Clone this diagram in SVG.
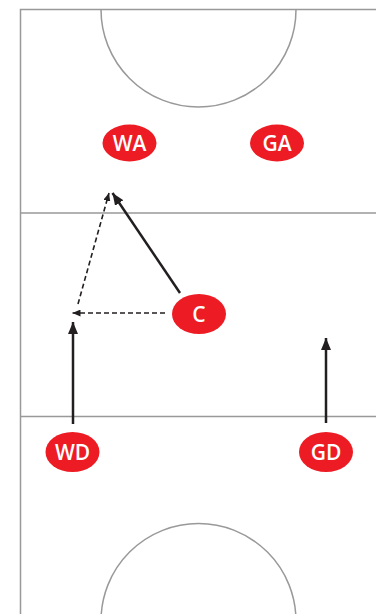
<svg xmlns="http://www.w3.org/2000/svg" width="376" height="614" viewBox="0 0 376 614">
<defs>
<style>
.court{fill:none;stroke:#999;stroke-width:1.5}
.pl{fill:#ed1c24}
.lbl{font-family:"Open Sans","Liberation Sans",sans-serif;font-weight:600;font-size:21px;fill:#fff;text-anchor:middle}
.arr{stroke:#231f20;stroke-width:2.5;fill:none}
.dash{stroke:#231f20;stroke-width:1.6;fill:none;stroke-dasharray:5 3}
</style>
<marker id="big" viewBox="0 0 12 10" refX="12" refY="5" markerWidth="12" markerHeight="10" markerUnits="userSpaceOnUse" orient="auto">
<path d="M0,0 L12,5 L0,10 Z" fill="#231f20"/>
</marker>
<marker id="small" viewBox="0 0 8 7" refX="8" refY="3.5" markerWidth="8" markerHeight="7" markerUnits="userSpaceOnUse" orient="auto">
<path d="M0,0 L8,3.5 L0,7 Z" fill="#231f20"/>
</marker>
</defs>
<rect width="376" height="614" fill="#fff"/>
<g id="court">
<path class="court" d="M380,9.5 H20.5 V620"/>
<line class="court" x1="20.5" y1="213" x2="380" y2="213"/>
<line class="court" x1="20.5" y1="416.5" x2="380" y2="416.5"/>
<path class="court" d="M101,9.5 A97.5,97.5 0 0 0 296,9.5"/>
<path class="court" d="M101,621 A97.5,97.5 0 0 1 296,621"/>
</g>
<g id="connectors">
<line class="arr" x1="180" y1="293" x2="112.5" y2="193" marker-end="url(#big)"/>
<line class="arr" x1="73" y1="424" x2="73" y2="322" marker-end="url(#big)"/>
<line class="arr" x1="326" y1="423" x2="326" y2="338" marker-end="url(#big)"/>
<line class="dash" x1="165" y1="313" x2="72.5" y2="313" marker-end="url(#small)"/>
<line class="dash" x1="78" y1="304" x2="109" y2="193" marker-end="url(#small)"/>
</g>
<g id="WA"><ellipse class="pl" cx="129.5" cy="143" rx="27" ry="18.5"/><text class="lbl" x="129.5" y="150.5">WA</text></g>
<g id="GA"><ellipse class="pl" cx="277" cy="143" rx="27" ry="18.5"/><text class="lbl" x="277" y="150.5">GA</text></g>
<g id="C"><ellipse class="pl" cx="199" cy="314" rx="27" ry="20"/><text class="lbl" x="199" y="321.5">C</text></g>
<g id="WD"><ellipse class="pl" cx="72.5" cy="452" rx="27" ry="20"/><text class="lbl" x="72.5" y="459.5">WD</text></g>
<g id="GD"><ellipse class="pl" cx="326" cy="452" rx="27" ry="20"/><text class="lbl" x="326" y="459.5">GD</text></g>
</svg>
